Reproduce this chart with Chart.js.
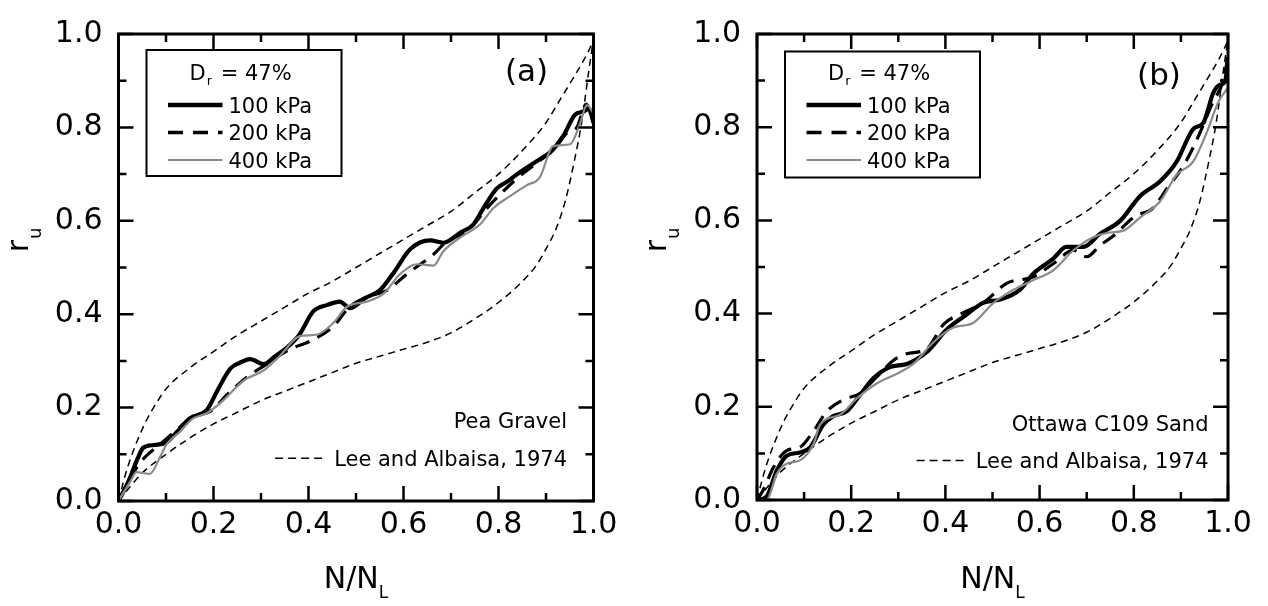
<!DOCTYPE html>
<html><head><meta charset="utf-8">
<script src="https://cdn.jsdelivr.net/npm/chart.js@4.4.1/dist/chart.umd.min.js"></script>
<style>
html,body{margin:0;padding:0;background:#fff;}
#wrap{position:relative;width:1268px;height:606px;overflow:hidden;}
canvas{position:absolute;top:0;}
#ca{left:0}
#cb{left:634px}
</style></head><body>
<div id="wrap"><canvas id="ca" width="634" height="606"></canvas><canvas id="cb" width="634" height="606"></canvas></div>
<script>
// ---------- tick labels ----------
const majorTicks = [0, 0.2, 0.4, 0.6, 0.8, 1.0];
const minorTicks = [0.1, 0.3, 0.5, 0.7, 0.9];

// ---------- Lee and Albaisa (1974) bounds ----------
const leeUpperX = [0, 0.01, 0.02, 0.04, 0.06, 0.08, 0.1, 0.15, 0.2, 0.25, 0.3, 0.35, 0.4, 0.45, 0.5, 0.55, 0.6, 0.65, 0.7, 0.75, 0.8, 0.85, 0.9, 0.93, 0.96, 0.98, 1.0];
const leeUpperY = [0, 0.04, 0.075, 0.13, 0.175, 0.21, 0.24, 0.285, 0.32, 0.355, 0.385, 0.415, 0.445, 0.47, 0.5, 0.53, 0.56, 0.59, 0.62, 0.66, 0.70, 0.75, 0.81, 0.86, 0.91, 0.945, 0.985];
const leeLowerX = [0, 0.02, 0.05, 0.1, 0.15, 0.2, 0.25, 0.3, 0.35, 0.4, 0.45, 0.5, 0.55, 0.6, 0.65, 0.7, 0.75, 0.8, 0.85, 0.88, 0.9, 0.92, 0.94, 0.96, 0.975, 0.99, 1.0];
const leeLowerY = [0, 0.025, 0.06, 0.1, 0.135, 0.165, 0.19, 0.215, 0.235, 0.255, 0.275, 0.295, 0.31, 0.325, 0.34, 0.36, 0.39, 0.425, 0.47, 0.505, 0.54, 0.58, 0.64, 0.73, 0.81, 0.92, 0.99];

// ---------- (a) Pea Gravel ----------
const a100X = [0, 0.02, 0.04, 0.052, 0.075, 0.1, 0.125, 0.15, 0.186, 0.21, 0.235, 0.255, 0.277, 0.306, 0.33, 0.354, 0.38, 0.41, 0.44, 0.466, 0.487, 0.52, 0.55, 0.58, 0.614, 0.656, 0.684, 0.72, 0.747, 0.77, 0.796, 0.82, 0.845, 0.887, 0.908, 0.936, 0.961, 0.979, 0.99, 1.0];
const a100Y = [0, 0.04, 0.09, 0.114, 0.12, 0.125, 0.15, 0.177, 0.195, 0.24, 0.283, 0.296, 0.304, 0.293, 0.31, 0.328, 0.355, 0.406, 0.42, 0.427, 0.413, 0.435, 0.451, 0.49, 0.539, 0.558, 0.553, 0.575, 0.592, 0.63, 0.669, 0.685, 0.704, 0.732, 0.746, 0.781, 0.827, 0.834, 0.84, 0.81];
const a200X = [0, 0.025, 0.052, 0.087, 0.12, 0.157, 0.193, 0.228, 0.27, 0.312, 0.361, 0.403, 0.452, 0.487, 0.523, 0.565, 0.607, 0.663, 0.691, 0.733, 0.782, 0.838, 0.873, 0.915, 0.944, 0.965, 0.985, 1.0];
const a200Y = [0, 0.05, 0.09, 0.121, 0.15, 0.181, 0.192, 0.227, 0.265, 0.293, 0.325, 0.342, 0.374, 0.416, 0.437, 0.451, 0.486, 0.528, 0.556, 0.577, 0.634, 0.69, 0.718, 0.753, 0.788, 0.80, 0.85, 0.81];
const a400X = [0, 0.025, 0.038, 0.066, 0.087, 0.101, 0.13, 0.157, 0.186, 0.221, 0.263, 0.305, 0.34, 0.382, 0.417, 0.452, 0.481, 0.523, 0.558, 0.593, 0.628, 0.663, 0.684, 0.719, 0.761, 0.789, 0.817, 0.859, 0.887, 0.915, 0.951, 0.972, 0.986, 1.0];
const a400Y = [0, 0.042, 0.062, 0.058, 0.093, 0.121, 0.149, 0.177, 0.188, 0.216, 0.258, 0.279, 0.311, 0.353, 0.356, 0.381, 0.416, 0.427, 0.444, 0.486, 0.507, 0.504, 0.535, 0.564, 0.592, 0.627, 0.648, 0.676, 0.693, 0.76, 0.764, 0.809, 0.848, 0.83];

// ---------- (b) Ottawa C109 Sand ----------
const b100X = [0, 0.02, 0.042, 0.063, 0.091, 0.113, 0.141, 0.162, 0.19, 0.219, 0.247, 0.282, 0.318, 0.36, 0.403, 0.445, 0.48, 0.516, 0.558, 0.587, 0.629, 0.657, 0.693, 0.728, 0.771, 0.813, 0.856, 0.891, 0.926, 0.948, 0.969, 0.983, 0.994, 1.0];
const b100Y = [0, 0.007, 0.063, 0.095, 0.102, 0.113, 0.162, 0.18, 0.19, 0.226, 0.261, 0.285, 0.292, 0.317, 0.366, 0.398, 0.423, 0.43, 0.451, 0.486, 0.518, 0.543, 0.543, 0.571, 0.599, 0.652, 0.684, 0.726, 0.796, 0.81, 0.874, 0.891, 0.898, 0.95];
const b200X = [0, 0.013, 0.035, 0.063, 0.091, 0.12, 0.148, 0.183, 0.219, 0.254, 0.29, 0.318, 0.36, 0.396, 0.438, 0.48, 0.53, 0.587, 0.629, 0.672, 0.7, 0.728, 0.757, 0.804, 0.838, 0.873, 0.907, 0.94, 0.967, 0.989, 1.0];
const b200Y = [0, 0.021, 0.07, 0.106, 0.113, 0.148, 0.19, 0.215, 0.229, 0.264, 0.3, 0.314, 0.324, 0.377, 0.402, 0.423, 0.465, 0.479, 0.507, 0.536, 0.522, 0.546, 0.567, 0.61, 0.624, 0.672, 0.72, 0.787, 0.852, 0.897, 0.95];
const b400X = [0, 0.02, 0.042, 0.063, 0.091, 0.12, 0.134, 0.176, 0.212, 0.254, 0.297, 0.332, 0.374, 0.417, 0.459, 0.502, 0.544, 0.587, 0.629, 0.672, 0.714, 0.749, 0.778, 0.813, 0.856, 0.891, 0.926, 0.955, 0.979, 1.0];
const b400Y = [0, 0.0, 0.056, 0.078, 0.085, 0.12, 0.162, 0.183, 0.218, 0.25, 0.271, 0.292, 0.338, 0.37, 0.38, 0.423, 0.451, 0.472, 0.493, 0.536, 0.564, 0.574, 0.578, 0.606, 0.641, 0.698, 0.726, 0.789, 0.853, 0.885];

const seriesLabels = ['100 kPa', '200 kPa', '400 kPa'];
const leeLabel = 'Lee and Albaisa, 1974';

const FONT = '"DejaVu Sans", Verdana, sans-serif';
const GREY = '#8a8a8a';

function pts(xs, ys) { return xs.map((x, i) => ({ x: x, y: ys[i] })); }

function rich(ctx, parts, x, y, align) {
  let w = 0;
  const ws = parts.map(p => { ctx.font = p[1] + 'px ' + FONT; const m = ctx.measureText(p[0]).width + (p[3] || 0); w += m; return m; });
  let cx = align === 'right' ? x - w : (align === 'center' ? x - w / 2 : x);
  ctx.textAlign = 'left'; ctx.textBaseline = 'alphabetic';
  parts.forEach((p, i) => { ctx.font = p[1] + 'px ' + FONT; ctx.fillText(p[0], cx, y + (p[2] || 0)); cx += ws[i]; });
}

const decoPlugin = {
  id: 'deco',
  afterDraw(chart, args, o) {
    const ctx = chart.ctx, a = chart.chartArea, xs = chart.scales.x, ys = chart.scales.y;
    ctx.save();
    ctx.fillStyle = '#000'; ctx.strokeStyle = '#000';
    // inward ticks on all four sides
    ctx.lineWidth = 2.5;
    const marks = majorTicks.map(v => [v, 15]).concat(minorTicks.map(v => [v, 8]));
    marks.forEach(([v, len]) => {
      const px = xs.getPixelForValue(v), py = ys.getPixelForValue(v);
      ctx.beginPath();
      ctx.moveTo(px, a.bottom); ctx.lineTo(px, a.bottom - len);
      ctx.moveTo(px, a.top); ctx.lineTo(px, a.top + len);
      ctx.moveTo(a.left, py); ctx.lineTo(a.left + len, py);
      ctx.moveTo(a.right, py); ctx.lineTo(a.right - len, py);
      ctx.stroke();
    });
    ctx.lineWidth = 3;
    ctx.strokeRect(a.left, a.top, a.right - a.left, a.bottom - a.top);

    // legend box
    const bx = a.left + 28, by = a.top + o.boxTop, bw = 195, bh = 126;
    ctx.fillStyle = '#fff';
    ctx.fillRect(bx, by, bw, bh);
    ctx.fillStyle = '#000';
    ctx.lineWidth = 2;
    ctx.strokeRect(bx, by, bw, bh);
    rich(ctx, [['D', 21, 0, 1], ['r', 13, 5.5, 2], [' = 47%', 21, 0]], a.left + 71, a.top + 45.5, 'left');
    const rowY = [71, 98.5, 126];
    const styles = [{ w: 4.5, c: '#000', d: [] }, { w: 3.5, c: '#000', d: [15, 10] }, { w: 2.2, c: GREY, d: [] }];
    styles.forEach((s, i) => {
      const yy = a.top + rowY[i];
      ctx.beginPath(); ctx.lineWidth = s.w; ctx.strokeStyle = s.c; ctx.setLineDash(s.d);
      ctx.moveTo(a.left + 49.5, yy); ctx.lineTo(a.left + 104, yy); ctx.stroke();
      ctx.setLineDash([]);
      ctx.fillStyle = '#000'; ctx.font = '21px ' + FONT; ctx.textAlign = 'left'; ctx.textBaseline = 'alphabetic';
      ctx.fillText(seriesLabels[i], a.left + 110, yy + 7.5);
    });
    ctx.strokeStyle = '#000';

    // panel label
    ctx.font = '31px ' + FONT; ctx.textAlign = 'center'; ctx.textBaseline = 'alphabetic';
    ctx.fillText(o.tag, a.left + o.tagX, a.top + o.tagY);

    // material + Lee annotation
    ctx.font = '21px ' + FONT; ctx.textAlign = 'right';
    ctx.fillText(o.material, a.right - o.inset, a.top + o.matY);
    ctx.fillText(leeLabel, a.right - o.inset, a.top + o.leeY);
    const tw = ctx.measureText(leeLabel).width;
    const lx1 = a.right - o.inset - tw - 9;
    ctx.beginPath(); ctx.lineWidth = 1.5; ctx.setLineDash([8, 5]);
    ctx.moveTo(lx1 - 50, a.top + o.leeY - 7.5); ctx.lineTo(lx1, a.top + o.leeY - 7.5); ctx.stroke();
    ctx.setLineDash([]);

    // axis titles
    const cxm = (a.left + a.right) / 2;
    rich(ctx, [['N/N', 30, 0], ['L', 17, 10]], cxm, 588, 'center');
    ctx.save();
    ctx.translate(a.left - 91, 240);
    ctx.rotate(-Math.PI / 2);
    rich(ctx, [['r', 30, 0, 1], ['u', 18, 13]], 0, 0, 'center');
    ctx.restore();
    ctx.restore();
  }
};

function makeChart(id, d100, d200, d400, deco) {
  const line = (data, color, width, dash) => ({
    data: data, borderColor: color, borderWidth: width, borderDash: dash,
    pointRadius: 0, fill: false, tension: 0.3, cubicInterpolationMode: 'monotone'
  });
  return new Chart(document.getElementById(id), {
    type: 'line',
    data: {
      datasets: [
        Object.assign(line(d400, GREY, 2.2, []), { label: seriesLabels[2] }),
        Object.assign(line(d200, '#000', 3.2, [15, 9]), { label: seriesLabels[1] }),
        Object.assign(line(d100, '#000', 4.2, []), { label: seriesLabels[0] }),
        Object.assign(line(pts(leeUpperX, leeUpperY), '#000', 1.5, [7, 5]), { label: leeLabel }),
        Object.assign(line(pts(leeLowerX, leeLowerY), '#000', 1.5, [7, 5]), { label: leeLabel })
      ]
    },
    options: {
      responsive: false, animation: false, devicePixelRatio: 1,
      layout: { padding: { top: deco.top, right: deco.right, left: 0, bottom: 0 } },
      plugins: { legend: { display: false }, tooltip: { enabled: false }, deco: deco },
      scales: {
        x: {
          type: 'linear', min: 0, max: 1,
          grid: { display: false, drawTicks: false }, border: { display: false },
          ticks: { padding: 6, font: { family: FONT, size: 30 }, color: '#000', maxRotation: 0, autoSkip: false, callback: v => v.toFixed(1) },
          afterBuildTicks: s => { s.ticks = majorTicks.map(v => ({ value: v })); },
          afterFit: s => { s.height = deco.xh; }
        },
        y: {
          type: 'linear', min: 0, max: 1,
          grid: { display: false, drawTicks: false }, border: { display: false },
          ticks: { padding: 16, font: { family: FONT, size: 30 }, color: '#000', autoSkip: false, callback: v => v.toFixed(1) },
          afterBuildTicks: s => { s.ticks = majorTicks.map(v => ({ value: v })); },
          afterFit: s => { s.width = deco.yw; }
        }
      }
    },
    plugins: [decoPlugin]
  });
}

makeChart('ca', pts(a100X, a100Y), pts(a200X, a200Y), pts(a400X, a400Y),
  { top: 26.5, right: 40.5, xh: 105, yw: 118.5, boxTop: 16, tag: '(a)', tagX: 408, tagY: 47.3,
    material: 'Pea Gravel', inset: 26.5, matY: 393.5, leeY: 431.8 });
makeChart('cb', pts(b100X, b100Y), pts(b200X, b200Y), pts(b400X, b400Y),
  { top: 27, right: 40, xh: 106, yw: 123, boxTop: 17.5, tag: '(b)', tagX: 402, tagY: 50.5,
    material: 'Ottawa C109 Sand', inset: 19.5, matY: 397, leeY: 434 });
</script>
</body></html>
